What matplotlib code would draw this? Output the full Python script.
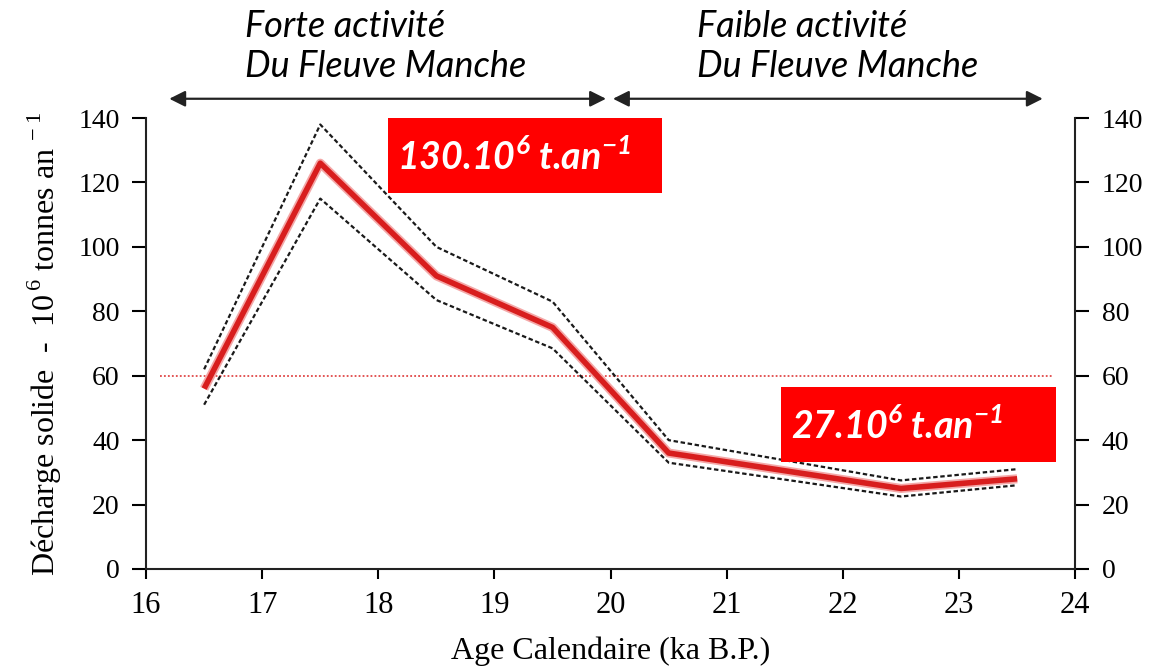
import matplotlib
matplotlib.use("Agg")
import matplotlib.pyplot as plt
from matplotlib.patches import Rectangle

# ---------------------------------------------------------#
# Data                                                     #
# ---------------------------------------------------------#
age_ka      = [16.5, 17.5, 18.5, 19.5, 20.5, 22.5, 23.5]
flux_mean   = [56, 126, 91, 75, 36, 25, 28]
flux_upper  = [62, 138, 100, 83, 40, 27.5, 31]
flux_lower  = [51, 115, 83.5, 68.5, 33, 22.5, 26]

threshold   = 60
y_ticks     = [0, 20, 40, 60, 80, 100, 120, 140]
x_ticks     = [16, 17, 18, 19, 20, 21, 22, 23, 24]

phase_labels = [("Forte activité", "Du Fleuve Manche"),
                ("Faible activité", "Du Fleuve Manche")]
box_labels   = [r"130.10$^{\mathbf{6}}$ t.an$^{\mathbf{-1}}$",
                r"27.10$^{\mathbf{6}}$ t.an$^{\mathbf{-1}}$"]

# ---------------------------------------------------------#
# Fonts                                                    #
# ---------------------------------------------------------#
plt.rcParams['font.family'] = 'Liberation Serif'
plt.rcParams['mathtext.fontset'] = 'custom'
plt.rcParams['mathtext.rm'] = 'Liberation Serif'
plt.rcParams['mathtext.bf'] = 'Lato:italic:bold'

sans = 'Lato'

fig = plt.figure(figsize=(11.5, 6.69), dpi=100)
ax = fig.add_axes([0.127, 0.1495, 0.808, 0.674])

# threshold line
ax.plot([16.12, 23.8], [threshold, threshold], color='#e04848', lw=1.3,
        linestyle=(0, (1, 1.2)), zorder=1)

# envelope and mean
ax.plot(age_ka, flux_upper, color='#1a1a1a', lw=1.6, linestyle=(0, (2, 1.2)), zorder=2)
ax.plot(age_ka, flux_lower, color='#1a1a1a', lw=1.6, linestyle=(0, (2, 1.2)), zorder=2)
ax.plot(age_ka, flux_mean, color='#f4a8a8', lw=6.5, solid_capstyle='butt', zorder=3)
ax.plot(age_ka, flux_mean, color='#d81e1e', lw=4, solid_capstyle='butt', zorder=4)

ax.set_xlim(16, 24)
ax.set_ylim(0, 140)
ax.set_xticks(x_ticks)
ax.set_yticks(y_ticks)
ax.spines['top'].set_visible(False)
for s in ['left', 'bottom', 'right']:
    ax.spines[s].set_linewidth(1.5)
    ax.spines[s].set_color('#222222')
ax.tick_params(axis='y', which='both', direction='out', length=10, width=1.5,
               labelsize=20, left=True, right=True,
               labelleft=True, labelright=True, pad=9)
ax.tick_params(axis='x', direction='out', length=7, width=1.5,
               labelsize=22, pad=9)

ax.set_xlabel("Age Calendaire (ka B.P.)", fontsize=23, labelpad=12)
ax.set_ylabel(r"Décharge solide  -  10$^{\,6}$ tonnes an$^{\,-1}$",
              fontsize=23, labelpad=10)

# red value boxes
boxes = [(18.08, 116.8), (21.47, 33.2)]
for (bx, by), txt in zip(boxes, box_labels):
    ax.add_patch(Rectangle((bx, by), 2.36, 23.3, facecolor='#ff0000',
                           edgecolor='none', zorder=5, clip_on=False))
    ax.text(bx + 0.08, by + 11.3, txt, color='white', fontsize=27,
            fontfamily=sans, fontstyle='italic', fontweight='bold',
            va='center', ha='left', zorder=6, clip_on=False)

# phase arrows above the plot
arrow_kw = dict(arrowstyle='<|-|>', color='#222222', lw=1.6,
                mutation_scale=24, shrinkA=0, shrinkB=0)
ax.annotate('', xy=(16.2, 146), xytext=(19.96, 146), arrowprops=arrow_kw,
            annotation_clip=False)
ax.annotate('', xy=(20.02, 146), xytext=(23.72, 146), arrowprops=arrow_kw,
            annotation_clip=False)

for x0, (l1, l2) in zip([16.85, 20.74], phase_labels):
    ax.text(x0, 168.5, l1, fontsize=26, fontfamily=sans, fontstyle='italic',
            va='center', ha='left', clip_on=False)
    ax.text(x0, 156.0, l2, fontsize=26, fontfamily=sans, fontstyle='italic',
            va='center', ha='left', clip_on=False)

fig.savefig('out.png', dpi=100)
